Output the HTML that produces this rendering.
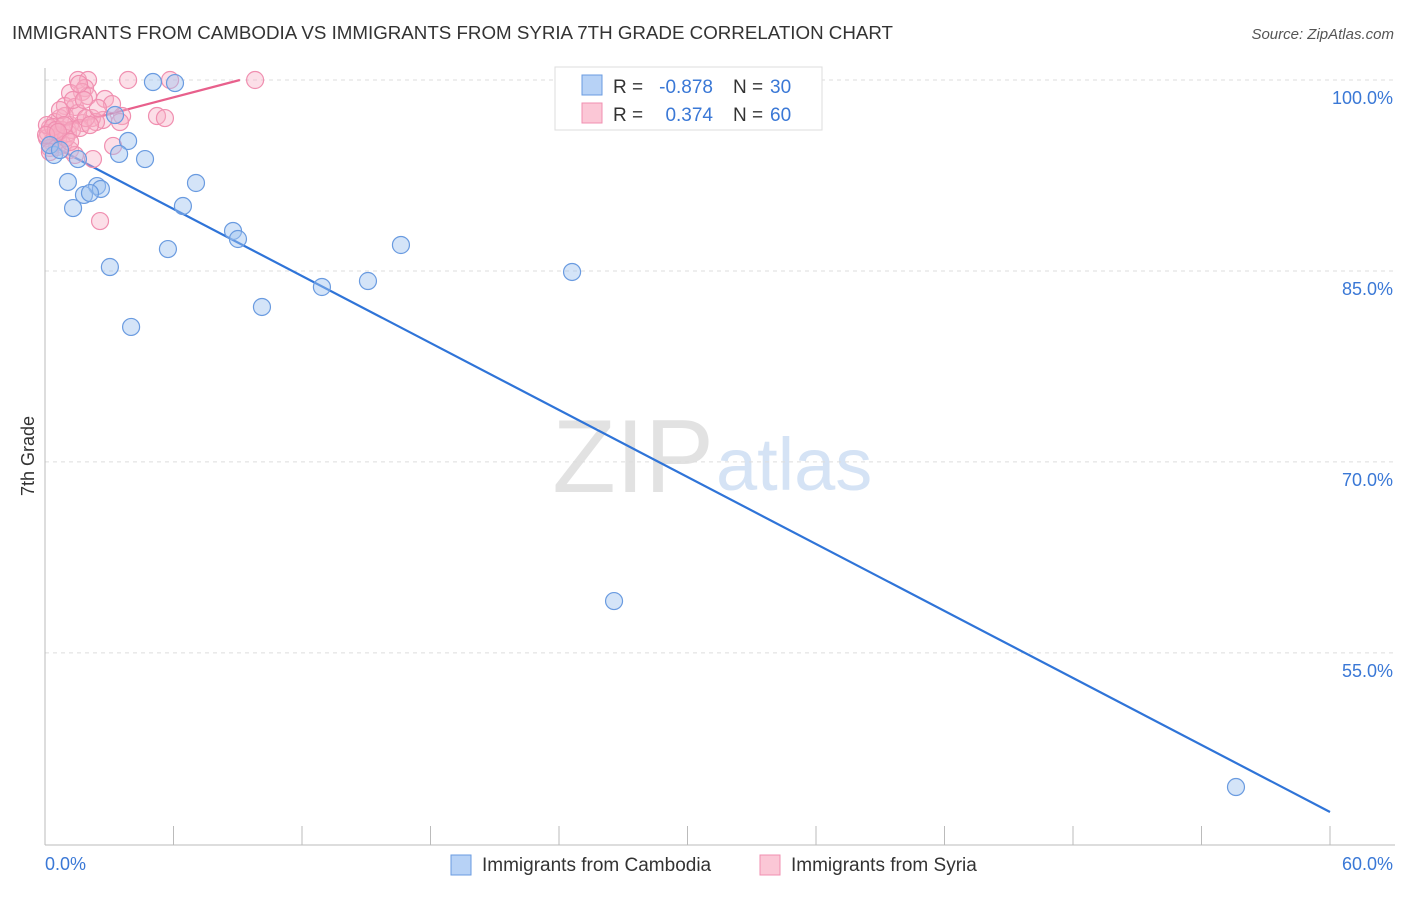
<!DOCTYPE html>
<html><head><meta charset="utf-8"><style>
body{margin:0;background:#fff;font-family:"Liberation Sans",sans-serif;}
svg text{font-family:"Liberation Sans",sans-serif;}
</style></head><body>
<svg width="1406" height="892" viewBox="0 0 1406 892">
<text x="12" y="39" font-size="18" fill="#333" textLength="881" lengthAdjust="spacingAndGlyphs">IMMIGRANTS FROM CAMBODIA VS IMMIGRANTS FROM SYRIA 7TH GRADE CORRELATION CHART</text>
<text x="1394" y="39" font-size="15" fill="#555" font-style="italic" text-anchor="end">Source: ZipAtlas.com</text>
<text x="714" y="492" font-size="104" font-family="Liberation Serif,serif" fill="#e2e2e2" text-anchor="end">ZIP</text>
<text x="716" y="490" font-size="74" fill="#d5e3f5">atlas</text>
<g id="grid"></g><g id="axes"></g><g id="lines"></g><g id="pts"></g>
<text transform="translate(34,456) rotate(-90)" font-size="18" fill="#333" text-anchor="middle">7th Grade</text>
<g>
<rect x="555" y="67" width="267" height="63" fill="#fff" stroke="#ddd"/>
<rect x="582" y="75" width="20" height="20" fill="#b7d2f6" stroke="#6a9be0"/>
<rect x="582" y="103" width="20" height="20" fill="#fbc7d6" stroke="#f08fb0"/>
<text x="613" y="93" font-size="19" fill="#333">R =</text>
<text x="713" y="93" font-size="19" fill="#3a78d6" text-anchor="end">-0.878</text>
<text x="733" y="93" font-size="19" fill="#333">N =</text>
<text x="770" y="93" font-size="19" fill="#3a78d6">30</text>
<text x="613" y="121" font-size="19" fill="#333">R =</text>
<text x="713" y="121" font-size="19" fill="#3a78d6" text-anchor="end">0.374</text>
<text x="733" y="121" font-size="19" fill="#333">N =</text>
<text x="770" y="121" font-size="19" fill="#3a78d6">60</text>
</g>
<g>
<rect x="451" y="855" width="20" height="20" fill="#b7d2f6" stroke="#6a9be0"/>
<text x="482" y="871" font-size="19" fill="#333">Immigrants from Cambodia</text>
<rect x="760" y="855" width="20" height="20" fill="#fbc7d6" stroke="#f08fb0"/>
<text x="791" y="871" font-size="19" fill="#333">Immigrants from Syria</text>
</g>
</svg>
<script>
const yTicks=[100,85,70,55];
const xTickLabels=["0.0%","60.0%"];
const blueX=[5.04,6.07,3.27,3.88,3.46,0.42,4.67,1.54,1.07,2.43,2.61,1.82,2.10,7.05,1.31,6.44,8.78,9.01,16.62,5.74,3.03,24.61,12.93,15.08,10.13,4.02,26.57,55.61,0.23,0.70];
const blueY=[99.84,99.76,97.25,95.21,94.19,94.11,93.79,93.79,91.99,91.67,91.44,90.97,91.12,91.91,89.94,90.10,88.14,87.51,87.04,86.72,85.31,84.92,83.74,84.21,82.17,80.60,59.07,44.46,94.89,94.50];
const pinkX=[1.54,3.88,5.84,9.81,2.01,1.87,1.73,1.17,2.01,2.80,3.13,0.93,1.40,3.60,5.23,5.60,2.71,2.19,1.77,0.70,0.47,1.17,0.23,0.79,0.14,0.47,1.07,0.61,0.09,0.33,0.84,0.56,0.23,1.17,1.40,2.24,3.18,2.57,0.93,1.54,2.38,3.50,0.09,0.37,1.26,1.63,1.91,0.98,2.10,2.47,1.31,0.70,0.23,0.51,0.89,0.05,0.61,1.17,1.82,1.59];
const pinkY=[100,100,100,100,100,99.37,99.06,98.98,98.74,98.51,98.11,97.96,97.88,97.17,97.17,97.01,96.86,97.01,96.62,97.01,96.70,96.46,96.23,96.07,95.83,95.68,95.83,95.28,95.44,95.13,94.89,94.73,94.66,94.50,94.11,93.79,94.82,88.92,97.17,97.41,96.70,96.70,96.46,96.31,96.07,96.23,97.01,95.44,96.46,97.80,98.43,97.64,94.34,96.07,96.46,95.68,95.91,95.13,98.43,99.69];
const blueLine=[[0,95.13],[60,42.5]];
const pinkLine=[[0,96.0],[9.1,100]];
const NS="http://www.w3.org/2000/svg";
const X=v=>45+v/60*1285, Y=v=>80+(100-v)*12.73;
function mk(p,t,a){const e=document.createElementNS(NS,t);for(const k in a)e.setAttribute(k,a[k]);document.getElementById(p).appendChild(e);return e;}
yTicks.forEach(t=>{
 const g=mk('grid','line',{x1:45,x2:1395,y1:Y(t),y2:Y(t),stroke:'#ddd','stroke-dasharray':'4,4'});
 
 
 const l=mk('grid','text',{x:1393,y:Y(t)+24,'font-size':18,fill:'#3a78d6','text-anchor':'end'});
 l.textContent=t.toFixed(1)+'%';
 
 
});
const ax=mk('axes','line',{x1:45,x2:45,y1:68,y2:845,stroke:'#bbb'});


const bx=mk('axes','line',{x1:45,x2:1395,y1:845,y2:845,stroke:'#bbb'});


for(let i=0;i<=10;i++){const t=mk('axes','line',{x1:X(i*6),x2:X(i*6),y1:826,y2:845,stroke:'#bbb'});
 
 }
[[0,'start',45],[60,'end',1393]].forEach((d,i)=>{const t=mk('axes','text',{x:d[2],y:870,'font-size':18,fill:'#3a78d6','text-anchor':d[1]});t.textContent=xTickLabels[i];
 
 });
function pts(xs,ys,fill,stroke,name){xs.forEach((x,i)=>{const c=mk('pts','circle',{cx:X(x),cy:Y(ys[i]),r:8.5,fill:fill,stroke:stroke,'stroke-width':1.2});
 
 });}
pts(pinkX,pinkY,'rgba(248,175,198,0.4)','#f08fb0','syria-point');
pts(blueX,blueY,'rgba(160,196,240,0.45)','#6a9be0','cambodia-point');
const bl=mk('lines','line',{x1:X(blueLine[0][0]),y1:Y(blueLine[0][1]),x2:X(blueLine[1][0]),y2:Y(blueLine[1][1]),stroke:'#2f74d8','stroke-width':2.2});


const pl=mk('lines','line',{x1:X(pinkLine[0][0]),y1:Y(pinkLine[0][1]),x2:X(pinkLine[1][0]),y2:Y(pinkLine[1][1]),stroke:'#e8608c','stroke-width':2.2});


</script>
</body></html>
